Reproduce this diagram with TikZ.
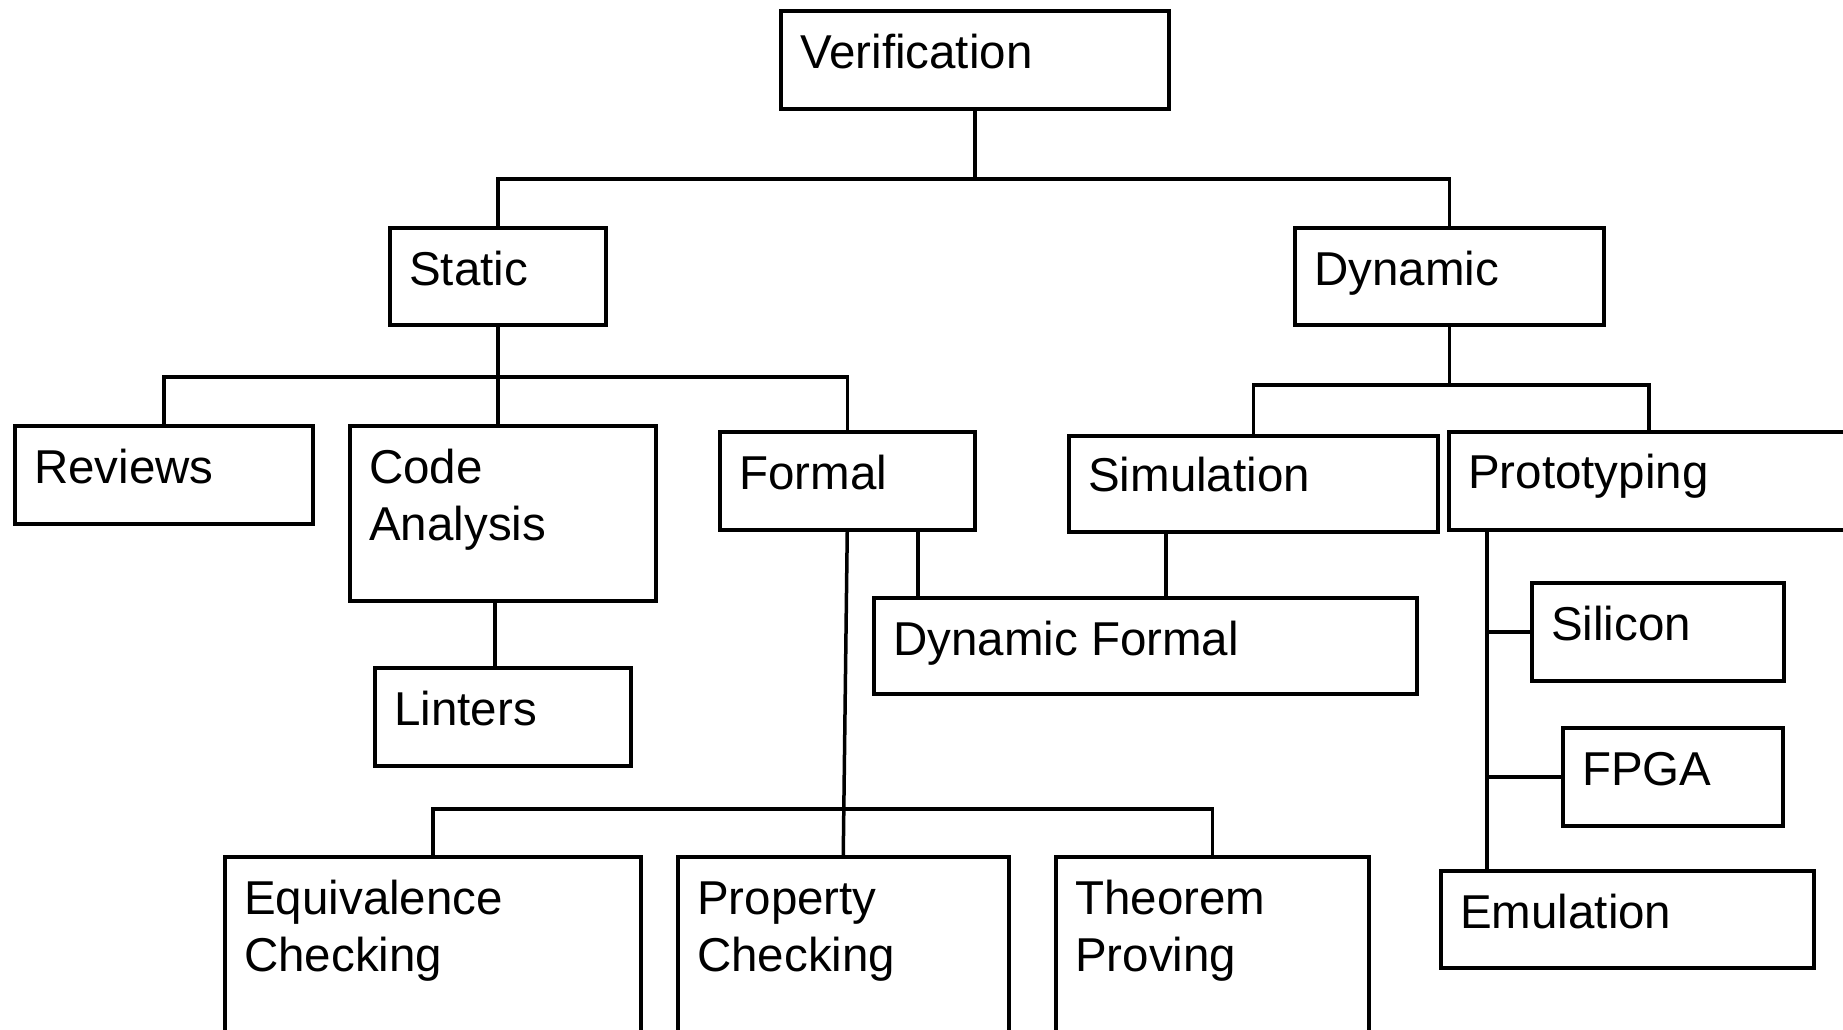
\documentclass[tikz,border=0pt]{standalone}
\usepackage{fontspec}
\setmainfont{Liberation Sans}
\usetikzlibrary{calc}
\newcommand\lblfont{\fontsize{47.5}{57.6}\selectfont}
\newcommand\twolines[2]{\begin{tabular}[t]{@{}l@{}}#1\\#2\end{tabular}}
\begin{document}
\begin{tikzpicture}[x=1pt,y=-1pt,
  box/.style={draw, line width=3.5pt, inner sep=0pt, anchor=north west},
  lbl/.style={anchor=base west, inner sep=0pt, font=\lblfont},
  wire/.style={line width=3.5pt, line cap=rect}]
\useasboundingbox (0,0) rectangle (1843,1029);
\clip (0,0) rectangle (1843,1029);
\fill[white] (0,0) rectangle (1843,1029);

% boxes
\node[box, minimum width=388pt, minimum height=98pt] (ver) at (779,9) {};
\node[box, minimum width=216pt, minimum height=97pt] (st) at (388,226) {};
\node[box, minimum width=309pt, minimum height=97pt] (dyn) at (1293,226) {};
\node[box, minimum width=298pt, minimum height=98pt] (rev) at (13,424) {};
\node[box, minimum width=306pt, minimum height=175pt] (ca) at (348,424) {};
\node[box, minimum width=255pt, minimum height=98pt] (fml) at (718,430) {};
\node[box, minimum width=369pt, minimum height=96pt] (sim) at (1067,434) {};
\node[box, minimum width=404pt, minimum height=98pt] (pro) at (1447,430) {};
\node[box, minimum width=543pt, minimum height=96pt] (df) at (872,596) {};
\node[box, minimum width=256pt, minimum height=98pt] (lin) at (373,666) {};
\node[box, minimum width=252pt, minimum height=98pt] (sil) at (1530,581) {};
\node[box, minimum width=220pt, minimum height=98pt] (fpga) at (1561,726) {};
\node[box, minimum width=373pt, minimum height=97pt] (emu) at (1439,869) {};
\node[box, minimum width=416pt, minimum height=200pt] (eq) at (223,855) {};
\node[box, minimum width=331pt, minimum height=200pt] (prop) at (676,855) {};
\node[box, minimum width=313pt, minimum height=200pt] (thm) at (1054,855) {};

% labels
\node[lbl] (ver-t) at ([shift={(21,59)}]ver.north west) {Verification};
\node[lbl] (st-t) at ([shift={(21,59)}]st.north west) {Static};
\node[lbl] (dyn-t) at ([shift={(21,59)}]dyn.north west) {Dynamic};
\node[lbl] (rev-t) at ([shift={(21,59)}]rev.north west) {Reviews};
\node[lbl] (ca-t) at ([shift={(21,59)}]ca.north west) {\twolines{Code}{Analysis}};
\node[lbl] (fml-t) at ([shift={(21,59)}]fml.north west) {Formal};
\node[lbl] (sim-t) at ([shift={(21,57)}]sim.north west) {Simulation};
\node[lbl] (pro-t) at ([shift={(21,58)}]pro.north west) {Prototyping};
\node[lbl] (df-t) at ([shift={(21,59)}]df.north west) {Dynamic Formal};
\node[lbl] (lin-t) at ([shift={(21,59)}]lin.north west) {Linters};
\node[lbl] (sil-t) at ([shift={(21,59)}]sil.north west) {Silicon};
\node[lbl] (fpga-t) at ([shift={(21,59)}]fpga.north west) {FPGA};
\node[lbl] (emu-t) at ([shift={(21,59)}]emu.north west) {Emulation};
\node[lbl] (eq-t) at ([shift={(21,59)}]eq.north west) {\twolines{Equivalence}{Checking}};
\node[lbl] (prop-t) at ([shift={(21,59)}]prop.north west) {\twolines{Property}{Checking}};
\node[lbl] (thm-t) at ([shift={(21,59)}]thm.north west) {\twolines{Theorem}{Proving}};

% bus lines
\coordinate (busA) at (0,179);
\coordinate (busB) at (0,377);
\coordinate (busC) at (0,385);
\coordinate (busD) at (0,809);
\coordinate (caX) at (495,0);
\coordinate (dfA) at (918,0);
\coordinate (dfB) at (1166,0);
\coordinate (proX) at (1649,0);
\coordinate (trunk) at (1487,0);

% Verification -> Static / Dynamic
\draw[wire] (ver.south) -- (ver.south |- busA);
\draw[wire] (st.north) |- (busA -| dyn.north) -- (dyn.north);

% Static -> Reviews / Code Analysis / Formal
\draw[wire] (st.south) -- (st.south |- ca.north);
\draw[wire] (rev.north) |- (busB -| fml.north) -- (fml.north);

% Code Analysis -> Linters
\draw[wire] (ca.south -| caX) -- (lin.north -| caX);

% Dynamic -> Simulation / Prototyping
\draw[wire] (dyn.south) -- (dyn.south |- busC);
\draw[wire] (sim.north) |- (busC -| proX) -- (pro.north -| proX);

% Formal / Simulation -> Dynamic Formal
\draw[wire] (fml.south -| dfA) -- (df.north -| dfA);
\draw[wire] (sim.south -| dfB) -- (df.north -| dfB);

% Formal -> Equivalence / Property / Theorem
\draw[wire] (fml.south) -- (prop.north);
\draw[wire] (eq.north) |- (busD -| thm.north) -- (thm.north);

% Prototyping -> Silicon / FPGA / Emulation
\draw[wire] (pro.south -| trunk) -- (emu.north -| trunk);
\draw[wire] (sil.west -| trunk) -- (sil.west);
\draw[wire] (fpga.west -| trunk) -- (fpga.west);
\end{tikzpicture}
\end{document}
